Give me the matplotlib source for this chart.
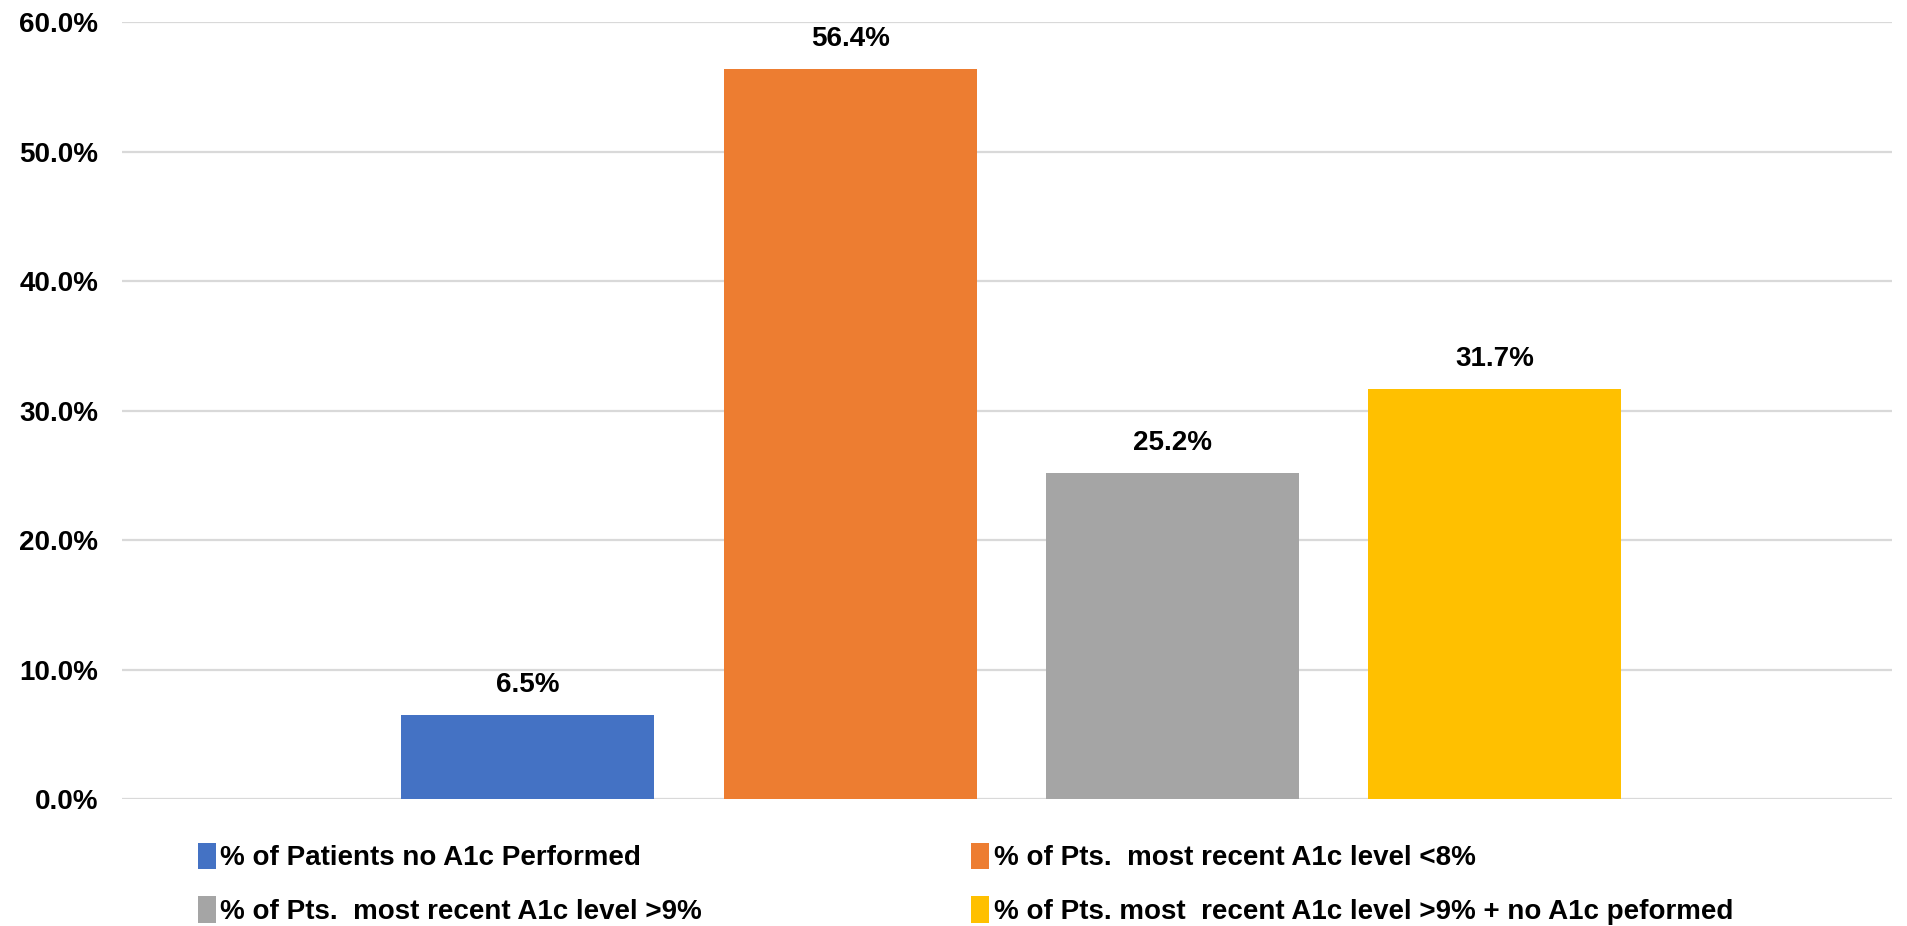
import numpy as np
import matplotlib.pyplot as plt
from matplotlib.ticker import FuncFormatter

# 데이터
categories = [
    "% of Patients no A1c Performed",
    "% of Pts.  most recent A1c level <8%",
    "% of Pts.  most recent A1c level >9%",
    "% of Pts. most  recent A1c level >9% + no A1c peformed",
]
values = [6.5, 56.4, 25.2, 31.7]
colors = ["#4472C4", "#ED7D31", "#A5A5A5", "#FFC000"]
y_ticks = [0, 10, 20, 30, 40, 50, 60]

plt.rcParams['font.family'] = ['Liberation Sans', 'DejaVu Sans']

fig = plt.figure(figsize=(19.07, 9.26), dpi=100)
ax = fig.add_axes([0.064, 0.137, 0.928, 0.839])

x = np.arange(len(values))
bars = ax.bar(x, values, width=0.785, color=colors, label=categories, zorder=3)

for b, v in zip(bars, values):
    ax.annotate(f"{v:.1f}%", (b.get_x() + b.get_width() / 2, v),
                xytext=(0, 12), textcoords="offset points",
                ha="center", va="bottom", fontsize=20, fontweight="bold")

ax.set_xlim(-1.259, 4.231)
ax.set_ylim(0, 60)
ax.set_yticks(y_ticks)
ax.yaxis.set_major_formatter(FuncFormatter(lambda v, p: f"{v:.1f}%"))
ax.tick_params(axis="y", length=0, labelsize=20, pad=17)
ax.set_xticks([])
ax.grid(axis="y", color="#D9D9D9", linewidth=1.6, zorder=0)
for s in ax.spines.values():
    s.set_visible(False)
for lab in ax.get_yticklabels():
    lab.set_fontweight("bold")

# 범례는 행 순서로 채우기 (matplotlib은 열 순서로 채움)
order = [0, 2, 1, 3]
fig.legend(handles=[bars[i] for i in order], labels=[categories[i] for i in order],
           ncol=2, loc="upper left", bbox_to_anchor=(0.0907, 0.117), frameon=False,
           prop={"size": 20, "weight": "bold"},
           handlelength=0.65, handleheight=1.1, handletextpad=0.15,
           columnspacing=9.7, labelspacing=0.9)

fig.savefig("out.png", dpi=100)
